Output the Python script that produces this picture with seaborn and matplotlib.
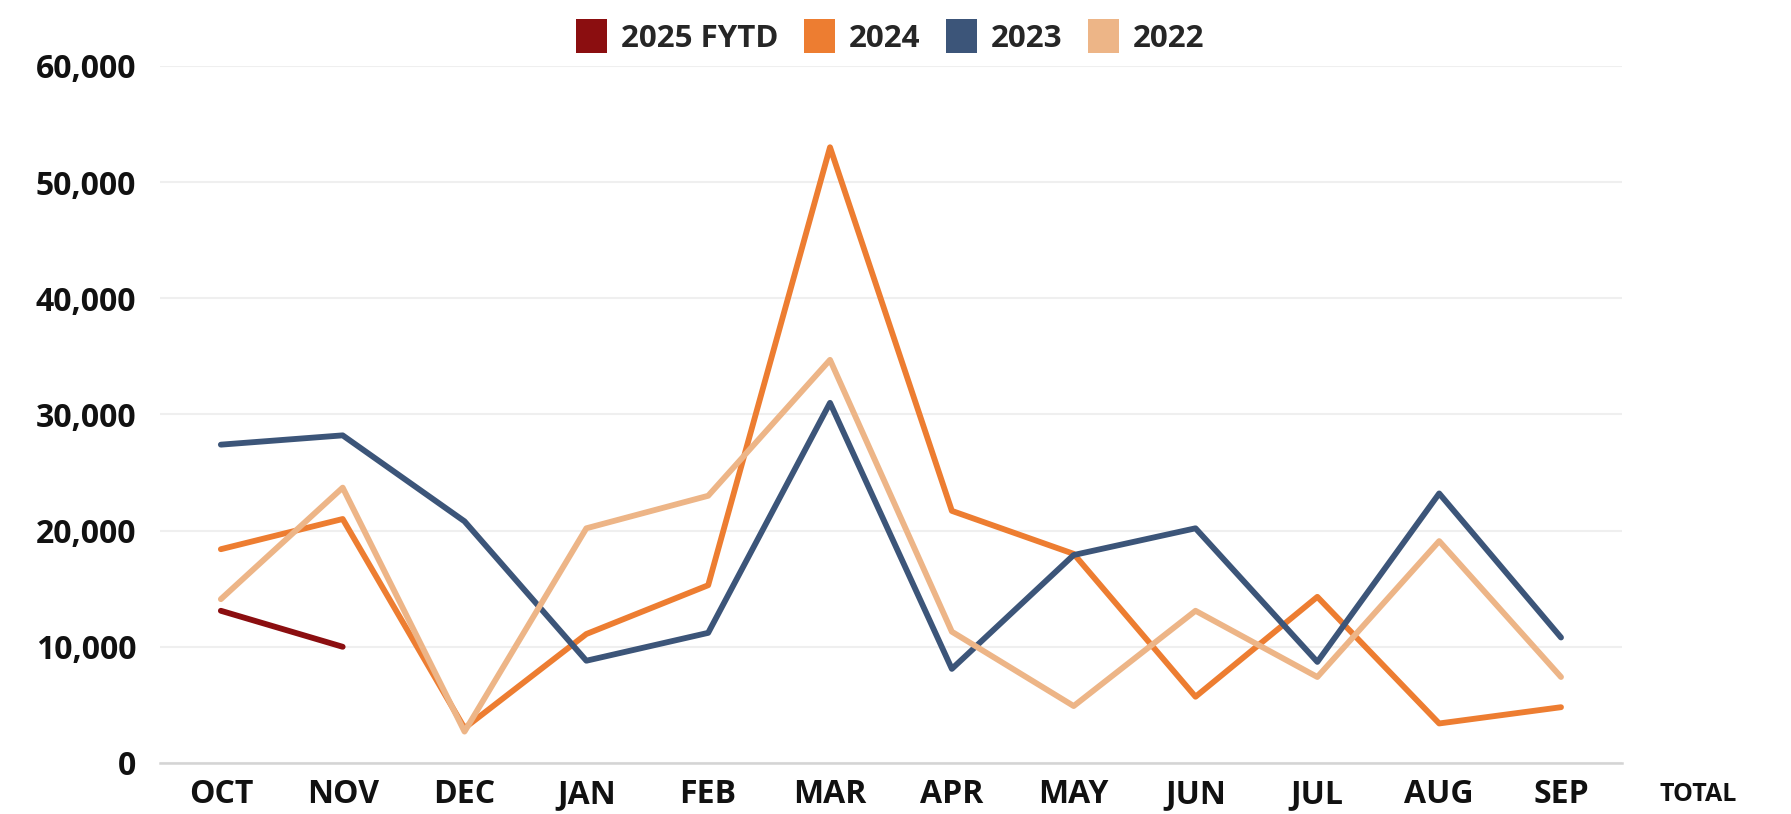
import pandas as pd
import matplotlib.pyplot as plt
import seaborn as sns
from matplotlib.patches import Patch
from matplotlib.ticker import FuncFormatter

# Monthly values by fiscal year (Oct - Sep)
months = ["OCT", "NOV", "DEC", "JAN", "FEB", "MAR", "APR", "MAY", "JUN", "JUL", "AUG", "SEP"]
fy2025 = [13100, 10000]
fy2024 = [18400, 21000, 3000, 11100, 15300, 53000, 21700, 18000, 5700, 14300, 3400, 4800]
fy2023 = [27400, 28200, 20800, 8800, 11200, 31000, 8100, 17900, 20200, 8700, 23200, 10800]
fy2022 = [14100, 23700, 2700, 20200, 23000, 34700, 11300, 4900, 13100, 7400, 19100, 7400]

series_names = ["2025 FYTD", "2024", "2023", "2022"]
colors = {"2025 FYTD": "#8B0E10", "2024": "#ED7D31", "2023": "#3C5579", "2022": "#EDB587"}

rows = []
for name, vals in zip(series_names, [fy2025, fy2024, fy2023, fy2022]):
    for i, v in enumerate(vals):
        rows.append({"month": i, "value": v, "series": name})
df = pd.DataFrame(rows)

sns.set_theme(style="white")
plt.rcParams['font.family'] = ['Open Sans', 'DejaVu Sans']
plt.rcParams['font.weight'] = 'bold'

fig = plt.figure(figsize=(17.91, 8.14), dpi=100)
ax = fig.add_axes([0.0893, 0.0627, 0.8163, 0.8563])

sns.lineplot(data=df, x="month", y="value", hue="series", hue_order=series_names,
             palette=colors, linewidth=4.2, legend=False, ax=ax, sort=False)

ax.set_xlim(-0.5, 11.5)
ax.set_ylim(0, 60000)
ax.set_yticks(range(0, 60001, 10000))
ax.yaxis.set_major_formatter(FuncFormatter(lambda v, p: f"{int(v):,}"))
ax.set_xticks(range(len(months)))
ax.set_xticklabels(months)
ax.set_xlabel("")
ax.set_ylabel("")

ax.grid(axis="y", color="#EFEFEF", linewidth=1.5)
ax.set_axisbelow(True)
for s in ["top", "right", "left"]:
    ax.spines[s].set_visible(False)
ax.spines["bottom"].set_color("#D4D4D4")
ax.spines["bottom"].set_linewidth(1.8)
ax.tick_params(axis="y", length=0, pad=17, labelsize=23)
ax.tick_params(axis="x", length=0, pad=11, labelsize=23)
for lbl in ax.get_xticklabels() + ax.get_yticklabels():
    lbl.set_fontweight("bold")
    lbl.set_color("#111111")

fig.text(0.948, 0.008, "TOTAL", fontsize=18, fontweight="bold", color="#111111",
         ha="center", va="bottom")

handles = [Patch(facecolor=colors[n], edgecolor="none") for n in series_names]
fig.legend(handles, series_names, loc="center", bbox_to_anchor=(0.497, 0.955), ncol=4,
           frameon=False, prop={"size": 22.5, "weight": "bold"},
           handlelength=1.0, handleheight=1.3, handletextpad=0.45, columnspacing=0.8)

fig.savefig("out.png", dpi=100, facecolor="white")
